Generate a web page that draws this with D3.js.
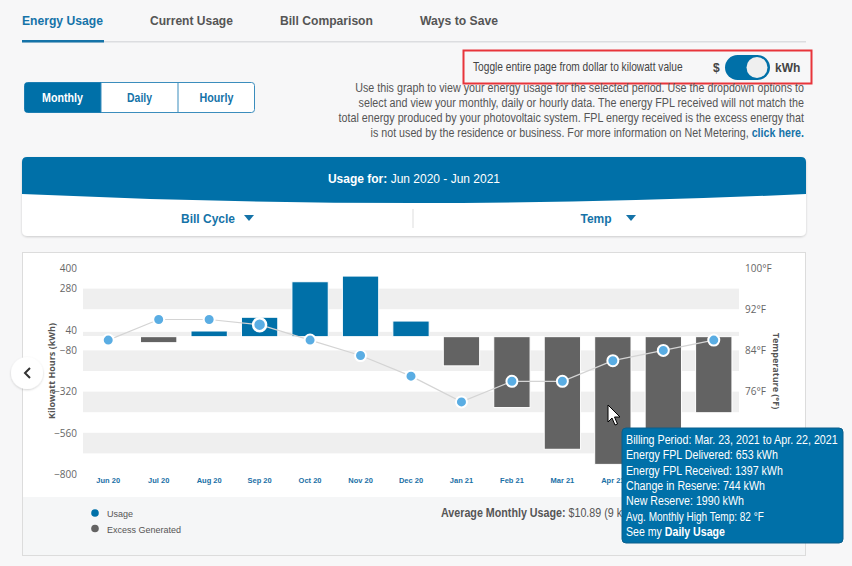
<!DOCTYPE html>
<html><head><meta charset="utf-8">
<script src="https://cdn.jsdelivr.net/npm/d3@7"></script>
<style>
html,body{margin:0;padding:0;background:#f7f7f8;}
svg{display:block;font-family:"Liberation Sans",Arial,sans-serif;}
</style></head>
<body><svg id="c" width="852" height="566"></svg>
<script>
// ---- data ----
const months = ["Jun 20","Jul 20","Aug 20","Sep 20","Oct 20","Nov 20","Dec 20","Jan 21","Feb 21","Mar 21","Apr 21","May 21","Jun 21"];
const usageKwh = [0,-35,33,113,320,353,91,-170,-413,-656,-744,-650,-443];
const highTemp = [86,90,90,89,86,83,79,74,78,78,82,84,86];
const kwhTicks = [400,280,40,-80,-320,-560,-800];
const tempTicks = [100,92,84,76];
const bandRanges = [[280,160],[28,4],[-80,-200],[-320,-440],[-560,-680]];
const tabs = ["Energy Usage","Current Usage","Bill Comparison","Ways to Save"];
const periods = ["Monthly","Daily","Hourly"];
const introLines = [
 "Use this graph to view your energy usage for the selected period. Use the dropdown options to",
 "select and view your monthly, daily or hourly data. The energy FPL received will not match the",
 "total energy produced by your photovoltaic system. FPL energy received is the excess energy that",
 "is not used by the residence or business. For more information on Net Metering, "];
const tooltipLines = ["Billing Period: Mar. 23, 2021 to Apr. 22, 2021","Energy FPL Delivered: 653 kWh","Energy FPL Received: 1397 kWh","Change in Reserve: 744 kWh","New Reserve: 1990 kWh","Avg. Monthly High Temp: 82 °F"];
const legendItems = [{name:"Usage",color:"#0070a8"},{name:"Excess Generated",color:"#636363"}];

const tabW=[81,83,93,78], tabX=[22,150,280,420];
const periodW=[41,25,34];
const introW=[449,446,466,434];
const tipW=[212,152,157,139,118,138,99];

const BLUE="#0070a8", GREY="#636363", PT="#5aade3";
const svg = d3.select("#c");
// place a text at (x,y) and squeeze it horizontally to a target width
function fitAt(t,x,y,w){
  const nat=t.node().getComputedTextLength();
  const s=Math.min(1,w/nat);
  t.attr("x",null).attr("y",null).attr("transform",`translate(${x},${y}) scale(${s},1)`);
  return t;
}

// ---- tabs ----
tabs.forEach((t,i)=>fitAt(svg.append("text").attr("font-size",13).attr("font-weight","bold")
  .attr("fill",i===0?"#1573a8":"#555").text(t),tabX[i],25,tabW[i]));
svg.append("rect").attr("x",22).attr("y",41).attr("width",784).attr("height",1.5).attr("fill","#dcdde0");
svg.append("rect").attr("x",22).attr("y",40).attr("width",82).attr("height",2.5).attr("fill","#1573a8");

// ---- toggle ----
svg.append("rect").attr("x",463.5).attr("y",50.5).attr("width",348).attr("height",33).attr("fill","none").attr("stroke","#e8353b").attr("stroke-width",2);
fitAt(svg.append("text").attr("font-size",12).attr("fill","#444").text("Toggle entire page from dollar to kilowatt value"),473,71,210);
svg.append("text").attr("x",713).attr("y",72).attr("font-size",12).attr("font-weight","bold").attr("fill","#444").text("$");
svg.append("rect").attr("x",725).attr("y",55).attr("width",45).attr("height",25).attr("rx",12.5).attr("fill",BLUE);
svg.append("circle").attr("cx",757).attr("cy",67.5).attr("r",10.5).attr("fill","#efefef");
svg.append("text").attr("x",775).attr("y",72).attr("font-size",12).attr("font-weight","bold").attr("fill","#444").text("kWh");

// ---- period buttons ----
const bx=d3.scaleBand().domain(periods).range([24,255]);
svg.append("rect").attr("x",24.5).attr("y",82.5).attr("width",230).attr("height",30).attr("rx",3).attr("fill","#fff").attr("stroke","#3b8dbd");
periods.forEach((p,i)=>{
  if(i===0) svg.append("path").attr("d",`M${bx(p)+3.5},82.5 H${bx(p)+bx.bandwidth()} V112.5 H${bx(p)+3.5} Q24.5,112.5 24.5,109.5 V85.5 Q24.5,82.5 ${bx(p)+3.5},82.5Z`).attr("fill",BLUE);
  else svg.append("line").attr("x1",bx(p)).attr("x2",bx(p)).attr("y1",83).attr("y2",112).attr("stroke","#3b8dbd");
  fitAt(svg.append("text").attr("text-anchor","middle").attr("font-size",12).attr("font-weight","bold")
    .attr("fill",i===0?"#fff":"#1573a8").text(p),bx(p)+bx.bandwidth()/2,102,periodW[i]);
});

// ---- intro paragraph ----
introLines.forEach((l,i)=>{
  const t=svg.append("text").attr("text-anchor","end").attr("font-size",12).attr("fill","#555");
  t.append("tspan").text(l);
  if(i===3) t.append("tspan").attr("font-weight","bold").attr("fill","#1573a8").text("click here.");
  fitAt(t,804,92+i*15,introW[i]);
});

// ---- header card ----
const defs=svg.append("defs");
const f=defs.append("filter").attr("id","sh").attr("x","-10%").attr("y","-10%").attr("width","120%").attr("height","130%");
f.append("feDropShadow").attr("dx",0).attr("dy",1).attr("stdDeviation",1).attr("flood-color","#000").attr("flood-opacity",0.18);
svg.append("rect").attr("x",22).attr("y",157).attr("width",784).attr("height",79).attr("rx",5).attr("fill","#fff").attr("filter","url(#sh)");
svg.append("path").attr("d","M22,162 Q22,157 27,157 H801 Q806,157 806,162 V194 Q414,212 22,194 Z").attr("fill",BLUE);
const ut=svg.append("text").attr("x",414).attr("y",183).attr("text-anchor","middle").attr("font-size",12).attr("fill","#fff");
ut.append("tspan").attr("font-weight","bold").text("Usage for: ");
ut.append("tspan").text("Jun 2020 - Jun 2021");
[["Bill Cycle",218],["Temp",606]].forEach(([t,cx])=>{
  svg.append("text").attr("x",cx-10).attr("y",223).attr("text-anchor","middle").attr("font-size",12).attr("font-weight","bold").attr("fill","#1573a8").text(t);
});
svg.append("path").attr("d","M244,215 h10 l-5,6z").attr("fill","#1573a8");
svg.append("path").attr("d","M626,215 h10 l-5,6z").attr("fill","#1573a8");
svg.append("line").attr("x1",413).attr("x2",413).attr("y1",209).attr("y2",228).attr("stroke","#ddd");

// ---- chart card ----
svg.append("rect").attr("x",22.5).attr("y",252.5).attr("width",783).attr("height",303).attr("fill","#fff").attr("stroke","#dcdcdc");
svg.append("rect").attr("x",23).attr("y",497).attr("width",782).attr("height",58).attr("fill","#f5f6f7");

const L=83,R=739;
const x=d3.scaleBand().domain(months).range([L,R]).paddingInner(0.28).paddingOuter(0.14);
const y=d3.scaleLinear().domain([-800,400]).range([474,268]);
const yT=d3.scaleLinear().domain([60,100]).range([474,268]);

svg.append("g").selectAll("rect").data(bandRanges).join("rect")
  .attr("x",L).attr("width",R-L).attr("y",d=>y(d[0])).attr("height",d=>y(d[1])-y(d[0])).attr("fill","#efefef");

// bars
svg.append("g").selectAll("rect").data(months.map((m,i)=>({m,v:usageKwh[i]})).filter(d=>d.v!==0)).join("rect")
  .attr("x",d=>x(d.m)).attr("width",x.bandwidth())
  .attr("y",d=>d.v>0?y(d.v):y(0)).attr("height",d=>Math.abs(y(d.v)-y(0)))
  .attr("fill",d=>d.v>0?BLUE:GREY).attr("stroke","#fff").attr("stroke-width",1);

// temp line
const pts=months.map((m,i)=>({m,t:highTemp[i]}));
svg.append("path").datum(pts).attr("fill","none").attr("stroke","#d4d4d4").attr("stroke-width",1.2)
  .attr("d",d3.line().x(d=>x(d.m)+x.bandwidth()/2).y(d=>yT(d.t)));
svg.append("g").selectAll("circle").data(pts).join("circle")
  .attr("cx",d=>x(d.m)+x.bandwidth()/2).attr("cy",d=>yT(d.t)).attr("r",(d,i)=>i===3?6.5:5.5)
  .attr("fill",PT).attr("stroke","#fff").attr("stroke-width",(d,i)=>i===3?2.5:2);

// axes
const ax=svg.append("g").attr("transform",`translate(${L-6},0)`)
  .call(d3.axisLeft(y).tickValues(kwhTicks).tickSize(0).tickPadding(0));
ax.select(".domain").remove();
ax.selectAll("text").attr("font-family","'Open Sans',sans-serif").attr("font-size",10).attr("fill","#666");
const ar=svg.append("g").attr("transform",`translate(${R+6},0)`)
  .call(d3.axisRight(yT).tickValues(tempTicks).tickSize(0).tickPadding(0).tickFormat(d=>d+"°F"));
ar.select(".domain").remove();
ar.selectAll("text").attr("font-family","'Open Sans',sans-serif").attr("font-size",10).attr("fill","#666");
const axb=svg.append("g").attr("transform","translate(0,478)")
  .call(d3.axisBottom(x).tickSize(0).tickPadding(0));
axb.select(".domain").remove();
axb.selectAll("text").attr("font-family","'Liberation Sans',Arial,sans-serif").attr("font-size",7.5).attr("font-weight","bold").attr("fill","#1a70a6");

svg.append("text").attr("transform","translate(55,371) rotate(-90)").attr("text-anchor","middle")
  .attr("font-family","'Open Sans',sans-serif").attr("font-size",9).attr("font-weight","bold").attr("fill","#555").text("Kilowatt Hours (kWh)");
svg.append("text").attr("transform","translate(773,371) rotate(90)").attr("text-anchor","middle")
  .attr("font-family","'Open Sans',sans-serif").attr("font-size",9).attr("font-weight","bold").attr("fill","#555").text("Temperature (°F)");

// nav arrow
svg.append("circle").attr("cx",27).attr("cy",373).attr("r",16).attr("fill","#fff").attr("filter","url(#sh)");
svg.append("path").attr("d","M30,368 l-5,5 l5,5").attr("fill","none").attr("stroke","#333").attr("stroke-width",2);

// legend
legendItems.forEach((d,i)=>{
  svg.append("circle").attr("cx",95).attr("cy",513+i*15.5).attr("r",3.8).attr("fill",d.color);
  svg.append("text").attr("x",107).attr("y",517+i*15.5).attr("font-size",9).attr("fill","#555").text(d.name);
});
const av=svg.append("text").attr("font-size",12).attr("fill","#555");
av.append("tspan").attr("font-weight","bold").text("Average Monthly Usage: ");
av.append("tspan").text("$10.89 (9 kWh)");
fitAt(av,441,517,201);

// cursor
svg.append("path").attr("d","M608,405 v17 l4,-4 l3,7 l2.5,-1 l-3,-7 h5.5 z").attr("fill","#fff").attr("stroke","#000").attr("stroke-width",1);

// tooltip
svg.append("rect").attr("x",622).attr("y",428).attr("width",221).attr("height",115).attr("rx",4).attr("fill","#0070a8").attr("stroke","#0a5f8c");
tooltipLines.forEach((l,i)=>fitAt(svg.append("text").attr("font-size",12).attr("fill","#fff").text(l),626,444+i*15.3,tipW[i]));
const sl=svg.append("text").attr("font-size",12).attr("fill","#fff");
sl.append("tspan").text("See my ");
sl.append("tspan").attr("font-weight","bold").text("Daily Usage");
fitAt(sl,626,444+6*15.3,tipW[6]);
</script></body></html>
